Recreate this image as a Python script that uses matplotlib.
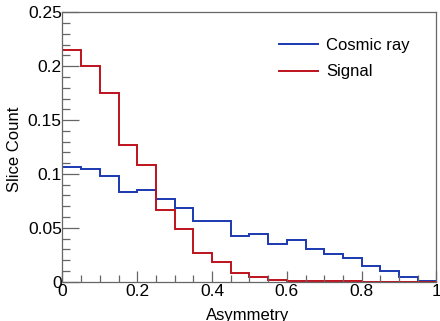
import matplotlib
matplotlib.use("Agg")
import matplotlib.pyplot as plt
from matplotlib.ticker import MultipleLocator
import numpy as np

plt.rcParams['font.family'] = ['Liberation Sans', 'DejaVu Sans']

# histogram bin edges (20 bins of 0.05)
bin_edges = np.linspace(0, 1, 21)

# normalised slice counts
cosmic_ray = [0.1068, 0.1046, 0.098, 0.083, 0.0855, 0.077, 0.068, 0.056, 0.056, 0.042,
              0.0447, 0.035, 0.039, 0.0306, 0.0256, 0.022, 0.015, 0.0095, 0.004, 0.0003]
signal = [0.215, 0.200, 0.175, 0.127, 0.108, 0.067, 0.049, 0.027, 0.018, 0.008,
          0.0048, 0.002, 0.001, 0.001, 0.0005, 0.0002, 0.0001, 0.0, 0.0, 0.0]

series_labels = ["Cosmic ray", "Signal"]

blue = "#1a38b0"
red = "#bd121d"

fig = plt.figure(figsize=(4.40, 3.21), dpi=100)
ax = fig.add_axes([0.142, 0.1224, 0.850, 0.8393])

ax.stairs(cosmic_ray, bin_edges, color=blue, linewidth=1.4, label=series_labels[0])
ax.stairs(signal, bin_edges, color=red, linewidth=1.4, label=series_labels[1])

ax.set_xlim(0, 1)
ax.set_ylim(0, 0.25)

ax.xaxis.set_major_locator(MultipleLocator(0.2))
ax.xaxis.set_minor_locator(MultipleLocator(0.05))
ax.yaxis.set_major_locator(MultipleLocator(0.05))
ax.yaxis.set_minor_locator(MultipleLocator(0.01))

def fmt(v, pos):
    return ("%.2f" % v).rstrip("0").rstrip(".") if v != 0 else "0"

ax.xaxis.set_major_formatter(plt.FuncFormatter(fmt))
ax.yaxis.set_major_formatter(plt.FuncFormatter(fmt))

ax.tick_params(which="both", direction="in", top=False, right=False,
               labelsize=12.5, color="#666666", width=0.9)
ax.tick_params(axis="y", which="major", length=12, pad=0.5)
ax.tick_params(axis="y", which="minor", length=6)
ax.tick_params(axis="x", which="major", length=8, pad=2)
ax.tick_params(axis="x", which="minor", length=5)

for s in ax.spines.values():
    s.set_color("#666666")
    s.set_linewidth(0.9)

ax.set_xlabel("Asymmetry", fontsize=12)
ax.set_ylabel("Slice Count", fontsize=12)
ax.xaxis.set_label_coords(0.496, -0.096)
ax.yaxis.set_label_coords(-0.108, 0.493)

ax.legend(loc="upper left", bbox_to_anchor=(0.54, 0.96), frameon=False,
          fontsize=12, handlelength=2.3, handletextpad=0.5, labelspacing=0.68)

fig.savefig("out.png", dpi=100)
